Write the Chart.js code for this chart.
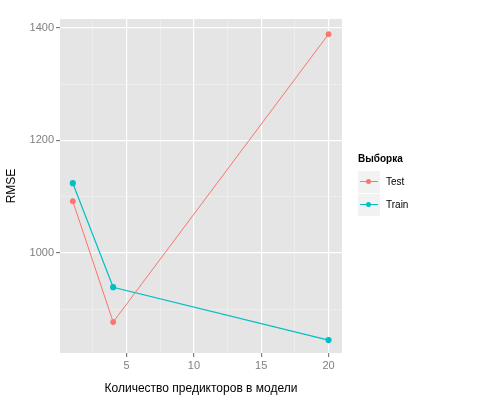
<!DOCTYPE html>
<html><head><meta charset="utf-8">
<script src="https://cdn.jsdelivr.net/npm/chart.js@4"></script>
<style>
body{margin:0;background:#fff;font-family:"Liberation Sans",Arial,sans-serif}
#wrap{position:relative;width:480px;height:400px}
#legend{position:absolute;left:358px;top:153px;font-size:10px;color:#000}
.t{font-weight:bold;margin-bottom:6px}
.it{display:flex;align-items:center;height:23px}
.key{position:relative;width:22px;height:22px;background:#F2F2F2;margin-right:6px}
.key .l{position:absolute;left:2px;right:2px;top:10px;height:1px}
.key .d{position:absolute;left:8px;top:8px;width:5px;height:5px;border-radius:50%}
</style></head><body>
<div id="wrap"><canvas id="c" width="480" height="400"></canvas>
<div id="legend"><div class="t">Выборка</div>
<div class="it"><div class="key"><div class="l" style="background:#F8766D"></div><div class="d" style="background:#F8766D"></div></div>Test</div>
<div class="it"><div class="key"><div class="l" style="background:#00BFC4"></div><div class="d" style="background:#00BFC4"></div></div>Train</div>
</div></div>
<script>
const predictors=[1,4,20];
const testRMSE=[1092,877,1389];
const trainRMSE=[1124,939,845];
const xTicks=[2.5,5,7.5,10,12.5,15,17.5,20];
const yTicks=[900,1000,1100,1200,1300,1400];
const bg={id:'bg',beforeDraw(ch){const a=ch.chartArea,c=ch.ctx;c.save();c.fillStyle='#E5E5E5';c.fillRect(a.left,a.top,a.right-a.left,a.bottom-a.top);c.restore();}};
const mk=(arr)=>predictors.map((x,i)=>({x,y:arr[i]}));
const major=v=>v%5===0||v%200===0;
new Chart(document.getElementById('c'),{type:'scatter',
data:{datasets:[
{label:'Test',data:mk(testRMSE),showLine:true,borderColor:'#F8766D',backgroundColor:'#F8766D',borderWidth:1,pointRadius:2.5,pointHoverRadius:2.5},
{label:'Train',data:mk(trainRMSE),showLine:true,borderColor:'#00BFC4',backgroundColor:'#00BFC4',borderWidth:1.2,pointRadius:2.5,pointHoverRadius:2.5}]},
options:{animation:false,responsive:false,events:[],
layout:{padding:{top:19,right:138,left:0,bottom:0}},
plugins:{legend:{display:false},tooltip:{enabled:false}},
scales:{
x:{type:'linear',min:0.05,max:21,afterBuildTicks:s=>{s.ticks=xTicks.map(v=>({value:v}))},
 afterFit:s=>{s.height=47},
 border:{display:false},
 grid:{color:c=>c.tick&&c.tick.value%5===0?'#FFFFFF':'#F2F2F2',lineWidth:c=>c.tick&&c.tick.value%5===0?1.2:0.6,tickColor:c=>c.tick&&c.tick.value%5===0?'#7F7F7F':'rgba(0,0,0,0)',tickLength:4},
 ticks:{color:'#7F7F7F',font:{size:11,family:'Liberation Sans'},padding:2,maxRotation:0,autoSkip:false,callback:v=>v%5===0?v:''},
 title:{display:true,text:'Количество предикторов в модели',color:'#000',font:{size:12,family:'Liberation Sans'},padding:{top:0}}},
y:{type:'linear',min:822,max:1416,afterBuildTicks:s=>{s.ticks=yTicks.map(v=>({value:v}))},
 afterFit:s=>{s.width=60},
 border:{display:false},
 grid:{color:c=>c.tick&&c.tick.value%200===0?'#FFFFFF':'#F2F2F2',lineWidth:c=>c.tick&&c.tick.value%200===0?1.2:0.6,tickColor:c=>c.tick&&c.tick.value%200===0?'#7F7F7F':'rgba(0,0,0,0)',tickLength:4},
 ticks:{color:'#7F7F7F',font:{size:11,family:'Liberation Sans'},padding:2,autoSkip:false,callback:v=>v%200===0?v:''},
 title:{display:true,text:'RMSE',color:'#000',font:{size:12,family:'Liberation Sans'},padding:{bottom:4}}}
}},plugins:[bg]});
</script></body></html>
